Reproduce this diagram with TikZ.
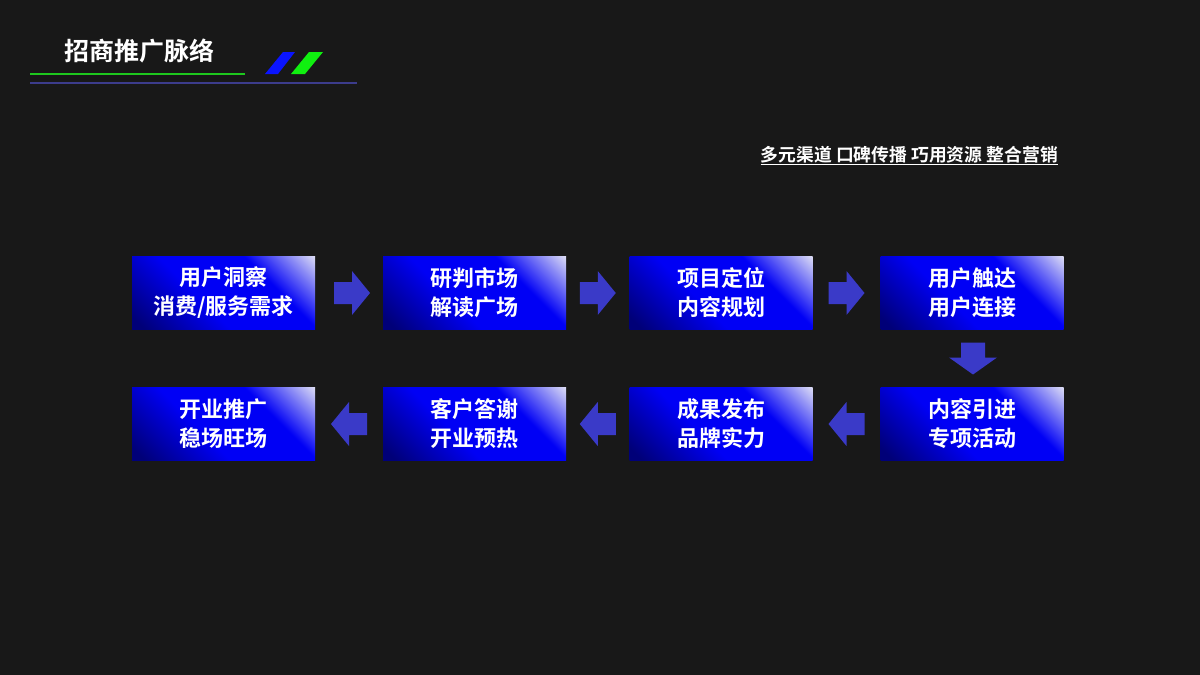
\documentclass[tikz,border=0pt]{standalone}
\usepackage{fontspec}
\setmainfont{Noto Sans CJK SC}[BoldFont={Noto Sans CJK SC Bold}]
\usetikzlibrary{calc}
\definecolor{bgc}{RGB}{24,24,24}
\definecolor{navyc}{RGB}{0,0,120}
\definecolor{bluec}{RGB}{0,0,245}
\definecolor{lightc}{RGB}{225,225,245}
\definecolor{arrc}{RGB}{58,58,200}
\definecolor{linegreen}{RGB}{30,200,30}
\definecolor{lineblue}{RGB}{60,60,140}
\definecolor{parblue}{RGB}{10,20,255}
\definecolor{pargreen}{RGB}{16,240,16}
\pgfdeclareverticalshading{boxgrad}{100bp}{color(0bp)=(navyc); color(18bp)=(navyc); color(42bp)=(bluec); color(66bp)=(bluec); color(86bp)=(lightc); color(100bp)=(lightc)}
\tikzset{
  stepbox/.style={shading=boxgrad, shading angle=-45, minimum width=183pt, minimum height=73pt,
    inner sep=0pt, align=center, text=white, font=\fontsize{22}{29}\selectfont\bfseries},
  arrfill/.style={fill=arrc, draw=none},
}
\newcommand{\rarr}[1]{\fill[arrfill] ($(#1)+(-18,-11)$) -- ($(#1)+(0,-11)$) -- ($(#1)+(0,-22)$) -- ($(#1)+(18,0)$) -- ($(#1)+(0,22)$) -- ($(#1)+(0,11)$) -- ($(#1)+(-18,11)$) -- cycle;}
\newcommand{\larr}[1]{\fill[arrfill] ($(#1)+(18,-11)$) -- ($(#1)+(0,-11)$) -- ($(#1)+(0,-22)$) -- ($(#1)+(-18,0)$) -- ($(#1)+(0,22)$) -- ($(#1)+(0,11)$) -- ($(#1)+(18,11)$) -- cycle;}
\newcommand{\darr}[1]{\fill[arrfill] ($(#1)+(-12,-16)$) -- ($(#1)+(12,-16)$) -- ($(#1)+(12,-1)$) -- ($(#1)+(24,-1)$) -- ($(#1)+(0,16)$) -- ($(#1)+(-24,-1)$) -- ($(#1)+(-12,-1)$) -- cycle;}
\begin{document}
\begin{tikzpicture}[x=1pt,y=-1pt]
\fill[bgc] (0,0) rectangle (1200,675);
\useasboundingbox (0,0) rectangle (1200,675);
% header
\node[anchor=west, inner sep=0pt, text=white, font=\fontsize{25}{28}\selectfont\bfseries] (title) at (64,51) {招商推广脉络};
\coordinate (g1) at (30,74); \coordinate (g2) at (245,74);
\draw[linegreen, line width=2pt] (g1) -- (g2);
\coordinate (l1) at (30,83); \coordinate (l2) at (357,83);
\draw[lineblue, line width=2pt] (l1) -- (l2);
\fill[parblue] (265,74) -- (278,74) -- (295,52) -- (283,52) -- cycle;
\fill[pargreen] (291,74) -- (305,74) -- (323,52) -- (309,52) -- cycle;
% subtitle
\node[anchor=east, inner sep=0pt, text=white, font=\fontsize{17.8}{20}\selectfont\bfseries] (sub) at (1058,155) {多元渠道 口碑传播 巧用资源 整合营销};
\coordinate (u1) at ($(sub.base west)+(0,2.5)$);
\coordinate (u2) at ($(sub.base east)+(0,2.5)$);
\draw[white, line width=1pt] (u1) -- (u2);
% boxes
\node[stepbox] (b1) at (223.5,293) {用户洞察\\消费/服务需求};
\node[stepbox] (b2) at (474.5,293) {研判市场\\解读广场};
\node[stepbox] (b3) at (721,293) {项目定位\\内容规划};
\node[stepbox] (b4) at (972,293) {用户触达\\用户连接};
\node[stepbox] (b5) at (972,424) {内容引进\\专项活动};
\node[stepbox] (b6) at (721,424) {成果发布\\品牌实力};
\node[stepbox] (b7) at (474.5,424) {客户答谢\\开业预热};
\node[stepbox] (b8) at (223.5,424) {开业推广\\稳场旺场};
% arrows
\coordinate (a12) at ($(b1.east)!0.5!(b2.west)+(3,0)$);
\coordinate (a23) at ($(b2.east)!0.5!(b3.west)$);
\coordinate (a34) at ($(b3.east)!0.5!(b4.west)$);
\coordinate (a45) at ($(b4.south)!0.5!(b5.north)+(1,0)$);
\coordinate (a56) at ($(b5.west)!0.5!(b6.east)$);
\coordinate (a67) at ($(b6.west)!0.5!(b7.east)$);
\coordinate (a78) at ($(b7.west)!0.5!(b8.east)$);
\rarr{a12} \rarr{a23} \rarr{a34}
\darr{a45}
\larr{a56} \larr{a67} \larr{a78}
\end{tikzpicture}
\end{document}
